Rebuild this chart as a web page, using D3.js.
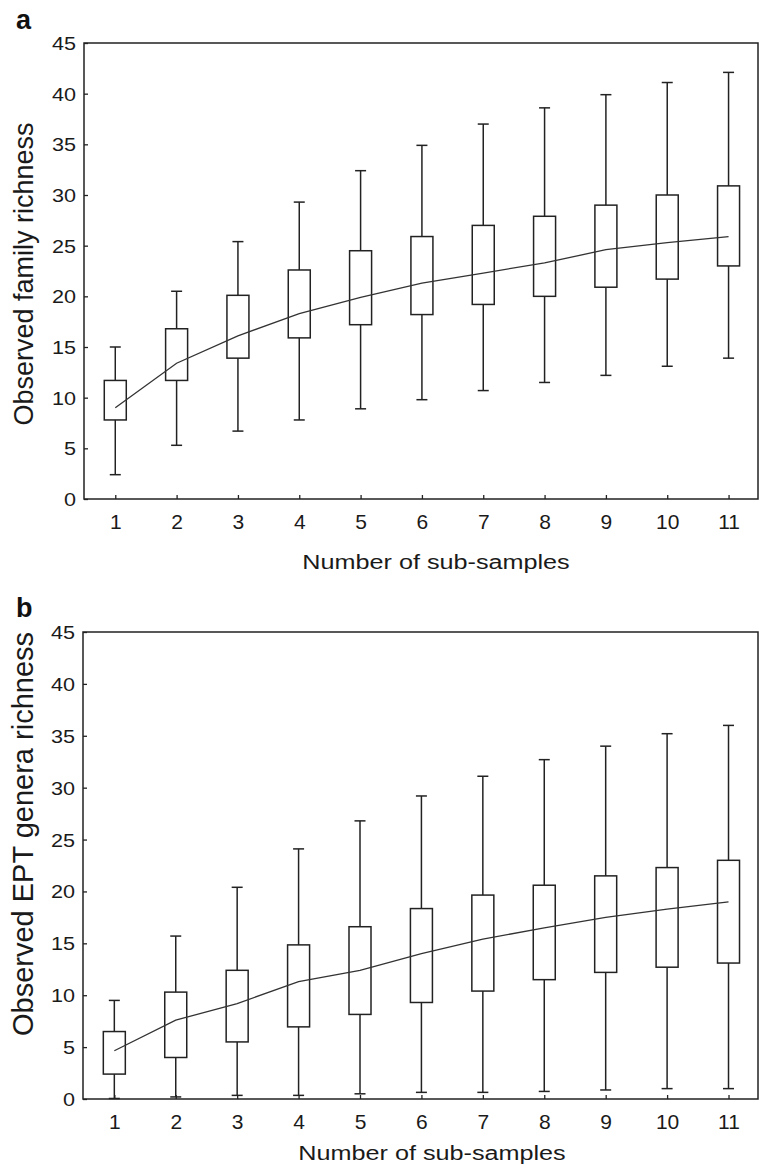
<!DOCTYPE html>
<html>
<head>
<meta charset="utf-8">
<script src="https://cdn.jsdelivr.net/npm/d3@7"></script>
<style>
  body { margin: 0; background: #fff; }
  svg { display: block; }
  text { font-family: "Liberation Sans", Arial, sans-serif; fill: #1a1a1a; }
</style>
</head>
<body>
<div id="chart"></div>
<script>
// number of sub-samples (x categories)
var subSamples = [1, 2, 3, 4, 5, 6, 7, 8, 9, 10, 11];
var yTicks = [0, 5, 10, 15, 20, 25, 30, 35, 40, 45];

// panel a: observed family richness
var famMax  = [15.0, 20.5, 25.4, 29.3, 32.4, 34.9, 37.0, 38.6, 39.9, 41.1, 42.1];
var famQ3   = [11.7, 16.8, 20.1, 22.6, 24.5, 25.9, 27.0, 27.9, 29.0, 30.0, 30.9];
var famQ1   = [7.8, 11.7, 13.9, 15.9, 17.2, 18.2, 19.2, 20.0, 20.9, 21.7, 23.0];
var famMin  = [2.4, 5.3, 6.7, 7.8, 8.9, 9.8, 10.7, 11.5, 12.2, 13.1, 13.9];
var famMean = [9.0, 13.4, 16.1, 18.3, 19.9, 21.3, 22.3, 23.3, 24.6, 25.3, 25.9];

// panel b: observed EPT genera richness
var eptMax  = [9.5, 15.7, 20.4, 24.1, 26.8, 29.2, 31.1, 32.7, 34.0, 35.2, 36.0];
var eptQ3   = [6.5, 10.3, 12.4, 14.85, 16.6, 18.35, 19.65, 20.6, 21.5, 22.3, 23.0];
var eptQ1   = [2.4, 4.0, 5.5, 6.95, 8.15, 9.3, 10.4, 11.5, 12.2, 12.7, 13.1];
var eptMin  = [0.05, 0.2, 0.35, 0.35, 0.5, 0.64, 0.64, 0.73, 0.87, 1.0, 1.0];
var eptMean = [4.65, 7.6, 9.2, 11.3, 12.4, 14.0, 15.4, 16.5, 17.5, 18.3, 19.0];

var ink = "#222";

var svg = d3.select("#chart")
  .append("svg")
    .attr("width", 761)
    .attr("height", 1170);

function drawPanel(p) {
  var width = p.right - p.left,
      height = p.bottom - p.top;

  var g = svg.append("g")
    .attr("transform", "translate(" + p.left + "," + p.top + ")");

  var x = d3.scaleLinear().domain([0.49, 11.48]).range([0, width]);
  var y = d3.scaleLinear().domain([0, 45]).range([height, 0]);

  // x axis, ticks pointing inward
  var xa = g.append("g")
    .attr("transform", "translate(0," + height + ")")
    .call(d3.axisBottom(x).tickValues(subSamples).tickSizeInner(-4).tickSizeOuter(0));
  xa.select(".domain").remove();
  xa.selectAll("line").attr("stroke", ink).attr("stroke-width", 1.3);
  xa.selectAll("text")
    .attr("y", 30).attr("dy", null)
    .style("font-size", "21px").style("fill", "#1a1a1a");

  // y axis
  var ya = g.append("g")
    .call(d3.axisLeft(y).tickValues(yTicks).tickSizeInner(-4).tickSizeOuter(0));
  ya.select(".domain").remove();
  ya.selectAll("line").attr("stroke", ink).attr("stroke-width", 1.3);
  ya.selectAll("text")
    .attr("x", -8 / 1.2).attr("dy", "0.36em")
    .attr("transform", "scale(1.2,1)")
    .style("font-size", "18px").style("fill", "#1a1a1a");

  // frame
  g.append("rect")
    .attr("width", width).attr("height", height)
    .attr("fill", "none").attr("stroke", ink).attr("stroke-width", 1.5);

  var rows = subSamples.map(function(s, i) {
    return { s: s, max: p.max[i], q3: p.q3[i], q1: p.q1[i], min: p.min[i] };
  });

  var boxW = 22, capW = 11;

  var box = g.selectAll(".box").data(rows).enter().append("g").attr("class", "box");

  // whiskers
  box.append("line")
    .attr("x1", function(d) { return x(d.s); })
    .attr("x2", function(d) { return x(d.s); })
    .attr("y1", function(d) { return y(d.max); })
    .attr("y2", function(d) { return y(d.min); })
    .attr("stroke", ink).attr("stroke-width", 1.5);
  box.append("line")
    .attr("x1", function(d) { return x(d.s) - capW / 2; })
    .attr("x2", function(d) { return x(d.s) + capW / 2; })
    .attr("y1", function(d) { return y(d.max); })
    .attr("y2", function(d) { return y(d.max); })
    .attr("stroke", ink).attr("stroke-width", 1.5);
  box.append("line")
    .attr("x1", function(d) { return x(d.s) - capW / 2; })
    .attr("x2", function(d) { return x(d.s) + capW / 2; })
    .attr("y1", function(d) { return y(d.min); })
    .attr("y2", function(d) { return y(d.min); })
    .attr("stroke", ink).attr("stroke-width", 1.5);

  // boxes
  box.append("rect")
    .attr("x", function(d) { return x(d.s) - boxW / 2; })
    .attr("y", function(d) { return y(d.q3); })
    .attr("width", boxW)
    .attr("height", function(d) { return y(d.q1) - y(d.q3); })
    .attr("fill", "#fff").attr("stroke", ink).attr("stroke-width", 1.5);

  // mean line
  g.append("path")
    .datum(p.mean)
    .attr("fill", "none")
    .attr("stroke", "#333")
    .attr("stroke-width", 1.3)
    .attr("d", d3.line()
      .x(function(d, i) { return x(subSamples[i]); })
      .y(function(d) { return y(d); }));

  // axis titles
  svg.append("text")
    .attr("transform", "translate(" + p.xTitleX + "," + p.xTitleY + ") scale(1.2,1)")
    .attr("text-anchor", "middle")
    .style("font-size", "21px")
    .text("Number of sub-samples");

  svg.append("text")
    .attr("transform", "translate(" + p.yTitleX + "," + p.yTitleY + ") rotate(-90)")
    .attr("text-anchor", "middle")
    .style("font-size", p.yTitleSize + "px")
    .text(p.yTitle);

  // panel letter
  svg.append("text")
    .attr("x", p.letterX).attr("y", p.letterY)
    .style("font-size", "27px").style("font-weight", "bold").style("fill", "#111")
    .text(p.letter);
}

drawPanel({
  left: 84, right: 758, top: 43, bottom: 499,
  max: famMax, q3: famQ3, q1: famQ1, min: famMin, mean: famMean,
  xTitleX: 436, xTitleY: 569,
  yTitleX: 33, yTitleY: 274, yTitleSize: 27, yTitle: "Observed family richness",
  letter: "a", letterX: 16, letterY: 29
});

drawPanel({
  left: 83, right: 758, top: 632, bottom: 1099,
  max: eptMax, q3: eptQ3, q1: eptQ1, min: eptMin, mean: eptMean,
  xTitleX: 432, xTitleY: 1160,
  yTitleX: 33, yTitleY: 834, yTitleSize: 29, yTitle: "Observed EPT genera richness",
  letter: "b", letterX: 16, letterY: 617
});
</script>
</body>
</html>
